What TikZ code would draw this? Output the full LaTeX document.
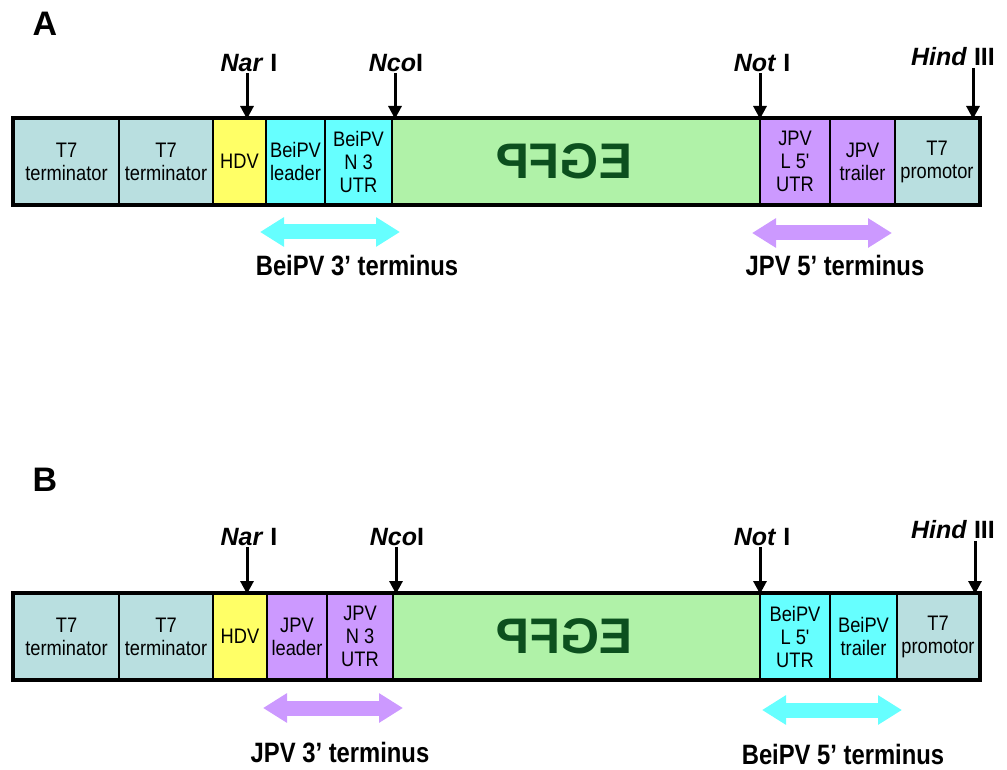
\documentclass[tikz,border=0pt]{standalone}
\usepackage{fontspec}
\setmainfont{Liberation Sans}
\newfontfamily\boxfont[FakeStretch=0.87]{Liberation Sans}
\newfontfamily\lblfont[FakeStretch=0.85]{Liberation Sans}
\usetikzlibrary{arrows.meta,positioning}
\definecolor{TsevenGray}{HTML}{B9DFE0}
\definecolor{HdvYellow}{HTML}{FFFF66}
\definecolor{BeiCyan}{HTML}{66FFFF}
\definecolor{JpvPurple}{HTML}{CC99FF}
\definecolor{GfpGreen}{HTML}{B0F2A8}
\definecolor{GfpDark}{HTML}{0C501E}

\begin{document}
\begin{tikzpicture}[x=1pt,y=-1pt,
  seg/.style={draw=black,line width=1.2pt,minimum height=85pt,inner sep=0pt,
    align=center,font=\boxfont\fontsize{21}{23}\selectfont},
  gfp/.style={seg,fill=GfpGreen,text=GfpDark,
    font=\bfseries\fontsize{50}{50}\selectfont},
  site/.style={font=\bfseries\fontsize{25}{25}\selectfont,inner sep=1.5pt},
  cut/.style={line width=3pt,-{Triangle[width=13pt,length=13pt]}},
  fatarr/.style={line width=15pt,
    {Triangle[width=28pt,length=24pt]}-{Triangle[width=28pt,length=24pt]}},
  endlbl/.style={font=\lblfont\bfseries\fontsize{28}{28}\selectfont,inner sep=0pt},
  panel/.style={font=\bfseries\fontsize{34}{34}\selectfont,inner sep=0pt}]
  \useasboundingbox (0,0) rectangle (1007,770);

  % panel A: BeiPV 3' end, JPV 5' end
  \node[panel] (pa) at (45,24) {A};
  \node[seg,fill=TsevenGray,minimum width=105pt] (aTa) at (66.5,161.5) {T7\\terminator};
  \node[seg,fill=TsevenGray,minimum width=94pt] (aTb) at (166,161.5) {T7\\terminator};
  \node[seg,fill=HdvYellow,minimum width=53pt] (aHdv) at (239.5,161.5) {HDV};
  \node[seg,fill=BeiCyan,minimum width=59pt] (aLead) at (295.5,161.5) {BeiPV\\leader};
  \node[seg,fill=BeiCyan,minimum width=67pt] (aNutr) at (358.5,161.5) {BeiPV\\N 3\\UTR};
  \node[gfp,minimum width=368pt] (aGfp) at (576,161.5)
      {\reflectbox{EGFP}\hspace*{24pt}};
  \node[seg,fill=JpvPurple,minimum width=70pt] (aLutr) at (795,161.5) {JPV\\L 5'\\UTR};
  \node[seg,fill=JpvPurple,minimum width=65pt] (aTrl) at (862.5,161.5) {JPV\\trailer};
  \node[seg,fill=TsevenGray,minimum width=84pt] (aProm) at (937,161.5) {T7\\promotor};
  \draw[line width=4pt] (aTa.north west) rectangle (aProm.south east);

  \node[site] (aNar) at (249,63) {\textit{Nar} I};
  \node[site] (aNco) at (396,63) {\textit{Nco}I};
  \node[site] (aNot) at (762,63) {\textit{Not} I};
  \node[site] (aHind) at (953,57) {\textit{Hind} III};
  \coordinate (aNarPt) at (247,119);
  \coordinate (aNcoPt) at (395,119);
  \coordinate (aNotPt) at (760,119);
  \coordinate (aHindPt) at (973,119);
  \draw[cut] (aNar.south -| aNarPt) -- (aNarPt);
  \draw[cut] (aNco.south -| aNcoPt) -- (aNcoPt);
  \draw[cut] (aNot.south -| aNotPt) -- (aNotPt);
  \draw[cut] (aHind.south -| aHindPt) -- (aHindPt);

  \coordinate (aBeiL) at (260,232);
  \coordinate (aBeiR) at (400,232);
  \coordinate (aJpvL) at (752,233);
  \coordinate (aJpvR) at (892,233);
  \draw[fatarr,BeiCyan] (aBeiL) -- (aBeiR);
  \draw[fatarr,JpvPurple] (aJpvL) -- (aJpvR);
  \node[endlbl] (aBeiEnd) at (357,266) {BeiPV 3’ terminus};
  \node[endlbl] (aJpvEnd) at (835,265) {JPV 5’ terminus};

  % panel B: JPV 3' end, BeiPV 5' end
  \node[panel] (pb) at (45,480) {B};
  \node[seg,fill=TsevenGray,minimum width=105pt] (bTa) at (66.5,636.5) {T7\\terminator};
  \node[seg,fill=TsevenGray,minimum width=94pt] (bTb) at (166,636.5) {T7\\terminator};
  \node[seg,fill=HdvYellow,minimum width=54pt] (bHdv) at (240,636.5) {HDV};
  \node[seg,fill=JpvPurple,minimum width=60pt] (bLead) at (297,636.5) {JPV\\leader};
  \node[seg,fill=JpvPurple,minimum width=66pt] (bNutr) at (360,636.5) {JPV\\N 3\\UTR};
  \node[gfp,minimum width=367pt] (bGfp) at (576.5,636.5)
      {\reflectbox{EGFP}\hspace*{24pt}};
  \node[seg,fill=BeiCyan,minimum width=70pt] (bLutr) at (795,636.5) {BeiPV\\L 5'\\UTR};
  \node[seg,fill=BeiCyan,minimum width=67pt] (bTrl) at (863.5,636.5) {BeiPV\\trailer};
  \node[seg,fill=TsevenGray,minimum width=82pt] (bProm) at (938,636.5) {T7\\promotor};
  \draw[line width=4pt] (bTa.north west) rectangle (bProm.south east);

  \node[site] (bNar) at (249,537) {\textit{Nar} I};
  \node[site] (bNco) at (397,537) {\textit{Nco}I};
  \node[site] (bNot) at (762,537) {\textit{Not} I};
  \node[site] (bHind) at (953,530) {\textit{Hind} III};
  \coordinate (bNarPt) at (247,594);
  \coordinate (bNcoPt) at (396,594);
  \coordinate (bNotPt) at (760,594);
  \coordinate (bHindPt) at (975,594);
  \draw[cut] (bNar.south -| bNarPt) -- (bNarPt);
  \draw[cut] (bNco.south -| bNcoPt) -- (bNcoPt);
  \draw[cut] (bNot.south -| bNotPt) -- (bNotPt);
  \draw[cut] (bHind.south -| bHindPt) -- (bHindPt);

  \coordinate (bJpvL) at (263,708);
  \coordinate (bJpvR) at (403,708);
  \coordinate (bBeiL) at (762,710);
  \coordinate (bBeiR) at (902,710);
  \draw[fatarr,JpvPurple] (bJpvL) -- (bJpvR);
  \draw[fatarr,BeiCyan] (bBeiL) -- (bBeiR);
  \node[endlbl] (bJpvEnd) at (340,753) {JPV 3’ terminus};
  \node[endlbl] (bBeiEnd) at (843,754) {BeiPV 5’ terminus};
\end{tikzpicture}
\end{document}
